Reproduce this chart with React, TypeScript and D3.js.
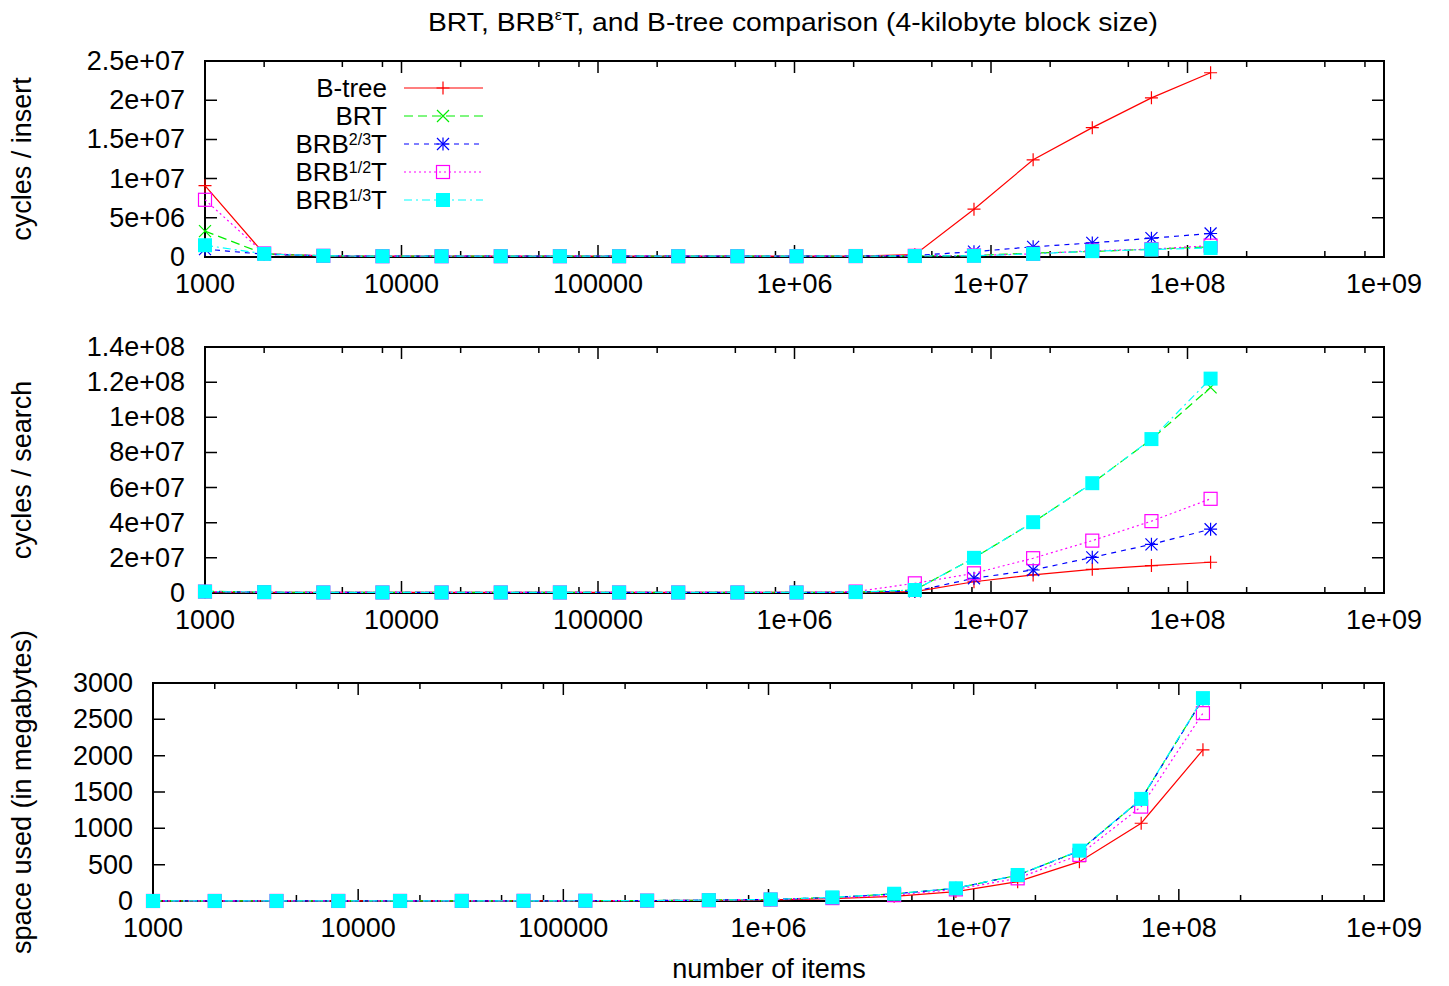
import React, { useEffect, useRef } from 'react';
import * as d3 from 'd3';

// number of items (x axis, log scale)
const items = [1000, 2000, 4000, 8000, 16000, 32000, 64000, 128000, 256000, 512000,
  1024000, 2048000, 4096000, 8192000, 16384000, 32768000, 65536000, 131072000];

// cycles / insert
const insertBtree = [9.1e6, 4.0e5, 1.5e5, 1.0e5, 1.0e5, 1.0e5, 1.0e5, 1.0e5, 1.0e5, 1.0e5, 1.0e5, 1.2e5, 3.0e5, 6.1e6, 1.24e7, 1.65e7, 2.03e7, 2.35e7];
const insertBrt = [3.3e6, 4.0e5, 1.5e5, 1.0e5, 1.0e5, 1.0e5, 1.0e5, 1.0e5, 1.0e5, 1.0e5, 1.0e5, 1.2e5, 1.5e5, 2.0e5, 5.0e5, 7.0e5, 1.0e6, 1.3e6];
const insertBrb23 = [1.0e6, 3.5e5, 1.5e5, 1.0e5, 1.0e5, 1.0e5, 1.0e5, 1.0e5, 1.0e5, 1.0e5, 1.0e5, 1.2e5, 2.0e5, 6.8e5, 1.3e6, 1.8e6, 2.4e6, 3.0e6];
const insertBrb12 = [7.3e6, 4.5e5, 1.5e5, 1.0e5, 1.0e5, 1.0e5, 1.0e5, 1.0e5, 1.0e5, 1.0e5, 1.0e5, 1.2e5, 1.5e5, 2.0e5, 4.0e5, 8.0e5, 1.0e6, 1.45e6];
const insertBrb13 = [1.5e6, 4.0e5, 1.5e5, 1.0e5, 1.0e5, 1.0e5, 1.0e5, 1.0e5, 1.0e5, 1.0e5, 1.0e5, 1.2e5, 1.2e5, 1.5e5, 4.0e5, 7.5e5, 9.5e5, 1.15e6];

// cycles / search
const searchBtree = [6.0e5, 4.0e5, 3.0e5, 3.0e5, 3.0e5, 3.0e5, 3.0e5, 3.0e5, 3.0e5, 3.0e5, 3.0e5, 4.0e5, 8.0e5, 6.4e6, 1.03e7, 1.35e7, 1.56e7, 1.75e7];
const searchBrt = [1.0e6, 5.0e5, 3.0e5, 3.0e5, 3.0e5, 3.0e5, 3.0e5, 3.0e5, 3.0e5, 3.0e5, 3.0e5, 5.0e5, 1.7e6, 2.0e7, 4.03e7, 6.25e7, 8.75e7, 1.17e8];
const searchBrb23 = [7.0e5, 4.0e5, 3.0e5, 3.0e5, 3.0e5, 3.0e5, 3.0e5, 3.0e5, 3.0e5, 3.0e5, 3.0e5, 5.0e5, 1.0e6, 8.4e6, 1.31e7, 2.03e7, 2.77e7, 3.63e7];
const searchBrb12 = [8.0e5, 5.0e5, 3.0e5, 3.0e5, 3.0e5, 3.0e5, 3.0e5, 3.0e5, 3.0e5, 3.0e5, 3.0e5, 8.0e5, 5.5e6, 1.12e7, 1.98e7, 2.98e7, 4.09e7, 5.36e7];
const searchBrb13 = [8.0e5, 5.0e5, 3.0e5, 3.0e5, 3.0e5, 3.0e5, 3.0e5, 3.0e5, 3.0e5, 3.0e5, 3.0e5, 5.0e5, 1.7e6, 2.0e7, 4.03e7, 6.25e7, 8.76e7, 1.22e8];

// space used (in megabytes)
const spaceBtree = [0.3, 0.4, 0.5, 0.6, 0.8, 1, 1.5, 2, 4, 8, 16, 33, 65, 130, 266, 541, 1070, 2080];
const spaceBrt = [0.4, 0.5, 0.6, 0.8, 1, 1.5, 2, 3.5, 6, 12, 22, 48, 98, 175, 356, 690, 1400, 2785];
const spaceBrb23 = [0.4, 0.5, 0.6, 0.8, 1, 1.5, 2, 3.5, 6, 12, 22, 47, 97, 174, 355, 688, 1398, 2780];
const spaceBrb12 = [0.4, 0.5, 0.6, 0.8, 1, 1.4, 2, 3, 5, 10, 20, 40, 80, 160, 312, 634, 1299, 2585];
const spaceBrb13 = [0.4, 0.5, 0.6, 0.8, 1, 1.5, 2, 3.5, 6, 12, 22, 50, 100, 175, 358, 693, 1405, 2792];

// tick values
const xTicks = [1e3, 1e4, 1e5, 1e6, 1e7, 1e8, 1e9];
const minorMult = [2, 5, 8];
const insertTicks = [0, 5e6, 1e7, 1.5e7, 2e7, 2.5e7];
const searchTicks = [0, 2e7, 4e7, 6e7, 8e7, 1e8, 1.2e8, 1.4e8];
const spaceTicks = [0, 500, 1000, 1500, 2000, 2500, 3000];

// legend: [main, superscript, tail]
const seriesLabels: [string, string, string][] = [
  ['B-tree', '', ''], ['BRT', '', ''], ['BRB', '2/3', 'T'], ['BRB', '1/2', 'T'], ['BRB', '1/3', 'T'],
];
const seriesStyle = [
  { color: '#ff0000', dash: null, mark: 'plus' },
  { color: '#00ee00', dash: '9,5', mark: 'cross' },
  { color: '#0000ff', dash: '5,5', mark: 'star' },
  { color: '#ff00ff', dash: '2,3', mark: 'openSquare' },
  { color: '#00ffff', dash: '8,4,2,4', mark: 'fillSquare' },
];

const FONT = '"Liberation Sans", Arial, Helvetica, sans-serif';

const fmtG = (v: number) => {
  if (v === 0) return '0';
  if (v < 1e6) return String(v);
  const e = Math.floor(Math.log10(v) + 1e-9);
  const m = +(v / Math.pow(10, e)).toPrecision(6);
  return `${m}e+${String(e).padStart(2, '0')}`;
};

const drawMark = (g: any, type: string, x: number, y: number, color: string) => {
  const s = 6.5;
  if (type === 'plus' || type === 'star') {
    g.append('path').attr('d', `M${x - s},${y}H${x + s}M${x},${y - s}V${y + s}`)
      .attr('stroke', color).attr('stroke-width', 1.2).attr('fill', 'none');
  }
  if (type === 'cross' || type === 'star') {
    const c = 6;
    g.append('path').attr('d', `M${x - c},${y - c}L${x + c},${y + c}M${x - c},${y + c}L${x + c},${y - c}`)
      .attr('stroke', color).attr('stroke-width', 1.2).attr('fill', 'none');
  }
  if (type === 'openSquare') {
    g.append('rect').attr('x', x - 6.5).attr('y', y - 6.5).attr('width', 13).attr('height', 13)
      .attr('stroke', color).attr('stroke-width', 1.2).attr('fill', 'none');
  }
  if (type === 'fillSquare') {
    g.append('rect').attr('x', x - 7).attr('y', y - 7).attr('width', 14).attr('height', 14)
      .attr('fill', color);
  }
};

const App = () => {
  const svgRef = useRef<SVGSVGElement>(null);

  useEffect(() => {
    const svg = d3.select(svgRef.current);
    svg.selectAll('*').remove();
    const right = 1384;

    const panels = [
      { top: 61, bottom: 257, left: 205, ticks: insertTicks, label: 'cycles / insert',
        data: [insertBtree, insertBrt, insertBrb23, insertBrb12, insertBrb13] },
      { top: 347, bottom: 593, left: 205, ticks: searchTicks, label: 'cycles / search',
        data: [searchBtree, searchBrt, searchBrb23, searchBrb12, searchBrb13] },
      { top: 683, bottom: 901, left: 153, ticks: spaceTicks, label: 'space used (in megabytes)',
        data: [spaceBtree, spaceBrt, spaceBrb23, spaceBrb12, spaceBrb13] },
    ];

    // title
    const title = svg.append('text')
      .attr('x', 793).attr('y', 31)
      .attr('text-anchor', 'middle')
      .attr('textLength', 730).attr('lengthAdjust', 'spacingAndGlyphs')
      .style('font-family', FONT).attr('font-size', 26);
    title.append('tspan').text('BRT, BRB');
    title.append('tspan').attr('dy', -11).attr('font-size', 15).text('ε');
    title.append('tspan').attr('dy', 11).text('T, and B-tree comparison (4-kilobyte block size)');

    panels.forEach((p, pi) => {
      const g = svg.append('g');
      const x = d3.scaleLog().domain([1e3, 1e9]).range([p.left, right]);
      const y = d3.scaleLinear().domain([0, p.ticks[p.ticks.length - 1]]).range([p.bottom, p.top]);

      // border
      g.append('rect')
        .attr('x', p.left).attr('y', p.top)
        .attr('width', right - p.left).attr('height', p.bottom - p.top)
        .attr('fill', 'none').attr('stroke', '#000').attr('stroke-width', 2);

      // x ticks, major + minor, mirrored on top
      const minors: number[] = [];
      xTicks.slice(0, -1).forEach(t => minorMult.forEach(m => minors.push(t * m)));
      xTicks.forEach(t => {
        g.append('path').attr('d', `M${x(t)},${p.bottom}v-12M${x(t)},${p.top}v12`)
          .attr('stroke', '#000').attr('stroke-width', 1.5);
        g.append('text')
          .attr('x', x(t)).attr('y', p.bottom + 36)
          .attr('text-anchor', 'middle')
          .style('font-family', FONT).attr('font-size', 27)
          .text(fmtG(t));
      });
      minors.forEach(t => {
        g.append('path').attr('d', `M${x(t)},${p.bottom}v-6M${x(t)},${p.top}v6`)
          .attr('stroke', '#000').attr('stroke-width', 1.5);
      });

      // y ticks, mirrored on the right
      p.ticks.forEach(t => {
        g.append('path').attr('d', `M${p.left},${y(t)}h12M${right},${y(t)}h-12`)
          .attr('stroke', '#000').attr('stroke-width', 1.5);
        g.append('text')
          .attr('x', p.left - 20).attr('y', y(t) + 9)
          .attr('text-anchor', 'end')
          .style('font-family', FONT).attr('font-size', 27)
          .text(fmtG(t));
      });

      // y label
      g.append('text')
        .attr('transform', `translate(31,${(p.top + p.bottom) / 2}) rotate(-90)`)
        .attr('text-anchor', 'middle')
        .style('font-family', FONT).attr('font-size', 27)
        .text(p.label);

      // legend only in the first panel
      if (pi === 0) {
        seriesLabels.forEach((lab, i) => {
          const ly = 88 + i * 28;
          const st = seriesStyle[i];
          const t = g.append('text')
            .attr('x', 387).attr('y', ly + 9)
            .attr('text-anchor', 'end')
            .style('font-family', FONT).attr('font-size', 26);
          t.append('tspan').text(lab[0]);
          if (lab[1]) {
            t.append('tspan').attr('dy', -8).attr('font-size', 16).text(lab[1]);
            t.append('tspan').attr('dy', 8).text(lab[2]);
          }
          g.append('line')
            .attr('x1', 404).attr('x2', 483).attr('y1', ly).attr('y2', ly)
            .attr('stroke', st.color).attr('stroke-width', 1.2)
            .attr('stroke-dasharray', st.dash);
          drawMark(g, st.mark, 443, ly, st.color);
        });
      }

      // series
      const line = d3.line<number>()
        .x((_, i) => x(items[i]))
        .y(d => y(d));
      p.data.forEach((vals, si) => {
        const st = seriesStyle[si];
        g.append('path')
          .datum(vals)
          .attr('d', line)
          .attr('fill', 'none')
          .attr('stroke', st.color).attr('stroke-width', 1.2)
          .attr('stroke-dasharray', st.dash);
        vals.forEach((v, i) => drawMark(g, st.mark, x(items[i]), y(v), st.color));
      });
    });

    // x axis label
    svg.append('text')
      .attr('x', 769).attr('y', 978)
      .attr('text-anchor', 'middle')
      .style('font-family', FONT).attr('font-size', 27)
      .text('number of items');
  }, []);

  return (
    <svg ref={svgRef} width={1449} height={986}
      style={{ position: 'absolute', left: 0, top: 0, background: '#fff' }} />
  );
};

export default App;
